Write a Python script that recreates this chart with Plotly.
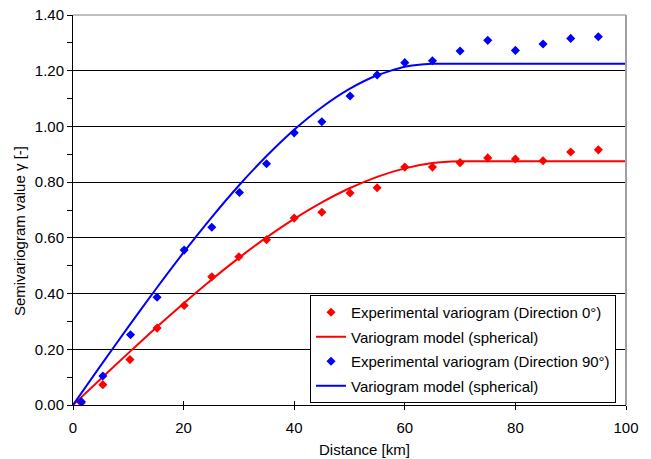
import plotly.graph_objects as go

# Experimental variogram, direction 0°
dist_0 = [1.5, 5.4, 10.3, 15.2, 20.1, 25.1, 30.0, 35.0, 40.0, 45.0, 50.1, 55.0, 60.0, 65.0, 70.0, 75.0, 80.0, 85.0, 90.0, 95.0]
gamma_0 = [0.008, 0.073, 0.163, 0.276, 0.357, 0.460, 0.532, 0.593, 0.671, 0.692, 0.761, 0.780, 0.854, 0.854, 0.870, 0.887, 0.883, 0.877, 0.908, 0.916]

# Experimental variogram, direction 90°
dist_90 = [1.5, 5.4, 10.4, 15.2, 20.1, 25.1, 30.1, 35.0, 40.0, 45.0, 50.1, 55.0, 60.0, 65.0, 70.0, 75.0, 80.0, 85.0, 90.0, 95.0]
gamma_90 = [0.012, 0.104, 0.252, 0.387, 0.556, 0.638, 0.763, 0.866, 0.977, 1.017, 1.109, 1.185, 1.229, 1.236, 1.271, 1.309, 1.273, 1.296, 1.316, 1.322]

# Spherical models
model_x = [0, 5, 10, 15, 20, 25, 30, 35, 40, 45, 50, 55, 60, 65, 70, 75, 80, 85, 90, 95, 100]
model_0 = [0.0, 0.0936, 0.1862, 0.2769, 0.3648, 0.4488, 0.5281, 0.6016, 0.6684, 0.7275, 0.7781, 0.8190, 0.8495, 0.8685, 0.875, 0.875, 0.875, 0.875, 0.875, 0.875, 0.875]
model_90 = [0.0, 0.1411, 0.2805, 0.4165, 0.5475, 0.6719, 0.7879, 0.8938, 0.9880, 1.0689, 1.1347, 1.1837, 1.2144, 1.225, 1.225, 1.225, 1.225, 1.225, 1.225, 1.225, 1.225]

y_ticks = [0.0, 0.2, 0.4, 0.6, 0.8, 1.0, 1.2, 1.4]
x_ticks = [0, 20, 40, 60, 80, 100]

x_title = "Distance [km]"
y_title = "Semivariogram value γ [-]"

RED = "#FF0000"
BLUE = "#0000FF"
FONT = "Liberation Sans, Arial, sans-serif"

fig = go.Figure()
fig.add_trace(go.Scatter(x=dist_0, y=gamma_0, mode="markers",
                         marker=dict(symbol="diamond", size=7, color=RED),
                         name="Experimental variogram (Direction 0°)", legendgroup="a"))
fig.add_trace(go.Scatter(x=model_x, y=model_0, mode="lines", line=dict(color=RED, width=2, shape="spline", smoothing=0.6),
                         name="Variogram model (spherical)", legendgroup="b"))
fig.add_trace(go.Scatter(x=dist_90, y=gamma_90, mode="markers",
                         marker=dict(symbol="diamond", size=7, color=BLUE),
                         name="Experimental variogram (Direction 90°)", legendgroup="c"))
fig.add_trace(go.Scatter(x=model_x, y=model_90, mode="lines", line=dict(color=BLUE, width=2, shape="spline", smoothing=0.6),
                         name="Variogram model (spherical)", legendgroup="d"))
# invisible trace to carry the inside half of the crossing x ticks
fig.add_trace(go.Scatter(x=[0, 100], y=[0, 0], xaxis="x2", mode="lines",
                         line=dict(width=0), showlegend=False, hoverinfo="skip"))

fig.update_layout(
    width=651, height=459,
    margin=dict(l=73, r=25, t=15, b=54),
    paper_bgcolor="white", plot_bgcolor="white",
    font=dict(family=FONT, size=14, color="black"),
    showlegend=True,
    legend=dict(x=0.4286, y=0.282, xanchor="left", yanchor="top",
                bgcolor="white", bordercolor="black", borderwidth=1,
                font=dict(family=FONT, size=15, color="black"),
                tracegroupgap=2, itemwidth=30),
    xaxis=dict(range=[0, 100], tickvals=x_ticks, ticktext=[str(v) for v in x_ticks],
               showgrid=False, zeroline=False, showline=True, linecolor="black", linewidth=1,
               ticks="outside", ticklen=4, tickcolor="black", automargin=False,
               ticklabelstandoff=5, tickfont=dict(size=15)),
    xaxis2=dict(range=[0, 100], overlaying="x", side="bottom", tickvals=x_ticks,
                showticklabels=False, showgrid=False, zeroline=False, showline=False,
                ticks="inside", ticklen=4, tickcolor="black", automargin=False),
    yaxis=dict(range=[0, 1.4], tickvals=y_ticks, ticktext=["%.2f" % v for v in y_ticks],
               showgrid=True, gridcolor="black", gridwidth=1, zeroline=False,
               showline=True, linecolor="black", linewidth=1,
               ticks="outside", ticklen=5, tickcolor="black", automargin=False,
               minor=dict(dtick=0.1, tick0=0, ticks="outside", ticklen=5, tickcolor="black", showgrid=False),
               tickfont=dict(size=15)),
    annotations=[
        dict(text=x_title, xref="paper", yref="paper", x=0.527, y=-0.115,
             xanchor="center", yanchor="middle", showarrow=False, font=dict(size=15)),
        dict(text=y_title, xref="paper", yref="paper", x=-0.0965, y=0.445, textangle=-90,
             xanchor="center", yanchor="middle", showarrow=False, font=dict(size=15)),
    ],
    shapes=[
        dict(type="line", xref="paper", yref="paper", x0=0, x1=1, y0=1, y1=1,
             line=dict(color="#808080", width=1), layer="above"),
        dict(type="line", xref="paper", yref="paper", x0=1, x1=1, y0=0, y1=1,
             line=dict(color="#A0A0A0", width=2), layer="above"),
    ],
)

fig.write_html("out.html")
